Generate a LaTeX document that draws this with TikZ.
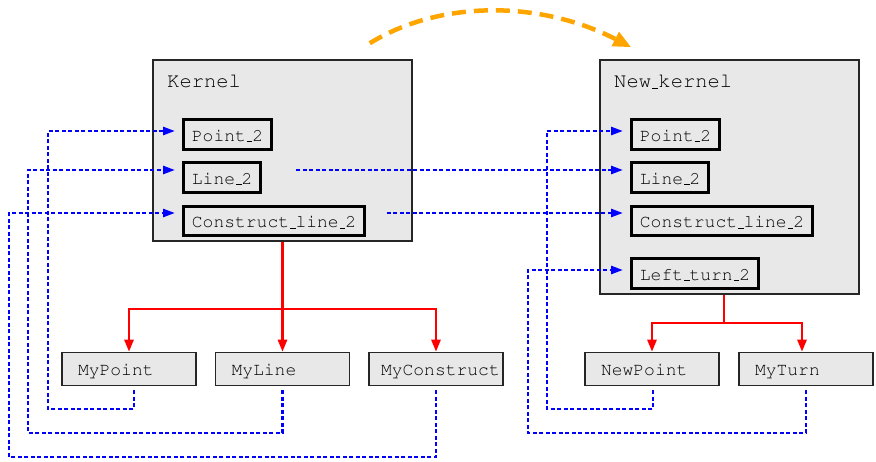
\documentclass[tikz,border=0pt]{standalone}
\usetikzlibrary{arrows.meta}
\definecolor{arcorange}{RGB}{255,165,0}
\def\lbl#1{\makebox[102pt][l]{#1}}
\def\cour#1{\fontencoding{OT1}\fontfamily{pcr}\fontsize{#1}{#1}\selectfont}

\tikzset{
  kbox/.style={draw=black!85, line width=1.5pt, fill=black!9, minimum width=259pt},
  ktitle/.style={anchor=base west, inner sep=0pt, font=\cour{20.5}},
  inbox/.style={draw=black, line width=2.8pt, fill=black!9, anchor=west, minimum height=29.5pt,
    inner xsep=8.5pt, text height=14pt, text depth=0pt, font=\cour{18}},
  lowbox/.style={draw=black!85, line width=1.5pt, fill=black!9, minimum height=33pt,
    inner xsep=16pt, text height=13pt, text depth=0pt, font=\cour{18}},
  use/.style={blue, line width=2.6pt, dash pattern=on 4pt off 2.5pt, -{Triangle[length=12pt,width=8pt]}},
  derive/.style={red, line width=2.5pt, -{Triangle[length=12pt,width=9pt]}},
  flow/.style={arcorange, line width=4.5pt, dash pattern=on 14pt off 8pt, -{Triangle[length=18pt,width=15pt]}}
}

\begin{document}
\begin{tikzpicture}[x=1pt,y=-1pt]
\useasboundingbox (0,0) rectangle (876,462);

% kernels
\node[kbox, minimum height=181pt] (kernel) at (282.5,150.5) {};
\node[ktitle] (ktitle) at (167,88) {Kernel};
\node[inbox] (kpoint) at (182,134.5) {Point\_2};
\node[inbox] (kline) at (182,177.5) {Line\_2};
\node[inbox] (kconstr) at (182,221) {Construct\_line\_2};

\node[kbox, minimum height=234pt] (nkernel) at (729.5,177) {};
\node[ktitle] (ntitle) at (614,88) {New\_kernel};
\node[inbox] (npoint) at (630,134.5) {Point\_2};
\node[inbox] (nline) at (630,177.5) {Line\_2};
\node[inbox] (nconstr) at (630,221) {Construct\_line\_2};
\node[inbox] (nturn) at (630,273.5) {Left\_turn\_2};

% user classes
\node[lowbox] (mpoint) at (129,369) {\lbl{MyPoint}};
\node[lowbox] (mline) at (282.5,369) {\lbl{MyLine}};
\node[lowbox, inner xsep=12pt] (mconstr) at (436,369) {\makebox[110pt][l]{MyConstruct}};
\node[lowbox] (npt) at (652,369) {\lbl{NewPoint}};
\node[lowbox] (mturn) at (806,369) {\lbl{MyTurn}};

% derivation
\coordinate (ksplit) at (282.5,309);
\coordinate (nsplit) at (724,323);
\draw[derive] (kernel.south) -- (mline.north);
\draw[derive] (ksplit) -| (mpoint.north);
\draw[derive] (ksplit) -| (mconstr.north);
\draw[derive] (nsplit |- nkernel.south) -- (nsplit) -| (npt.north);
\draw[derive] (nsplit) -| ([xshift=-4pt]mturn.north);

% uses
\coordinate (lane1) at (48,409);
\coordinate (lane2) at (28,433);
\coordinate (lane3) at (9,457);
\coordinate (lane4) at (547,409);
\coordinate (lane5) at (528,433);
\draw[use] ([shift={(5,4)}]mpoint.south) |- (lane1) |- ([shift={(-7,-3.5)}]kpoint.west);
\draw[use] ([yshift=-4pt]mline.south) |- (lane2) |- ([shift={(-7,-7.5)}]kline.west);
\draw[use] ([yshift=-4pt]mconstr.south) |- (lane3) |- ([shift={(-7,-8)}]kconstr.west);
\draw[use] ([shift={(1,4)}]npt.south) |- (lane4) |- ([shift={(-7,-3.5)}]npoint.west);
\draw[use] ([yshift=-4pt]mturn.south) |- (lane5) |- ([shift={(-7,-3.5)}]nturn.west);
\draw[use] ([shift={(34,-7.5)}]kline.east) -- ([shift={(-7,-7.5)}]nline.west);
\draw[use] ([shift={(21,-8)}]kconstr.east) -- ([shift={(-7,-8)}]nconstr.west);

% kernel change
\draw[flow] ([shift={(-43,-16)}]kernel.north east) .. controls (440,0) and (540,0) .. ([shift={(32,-12)}]nkernel.north west);
\end{tikzpicture}
\end{document}
